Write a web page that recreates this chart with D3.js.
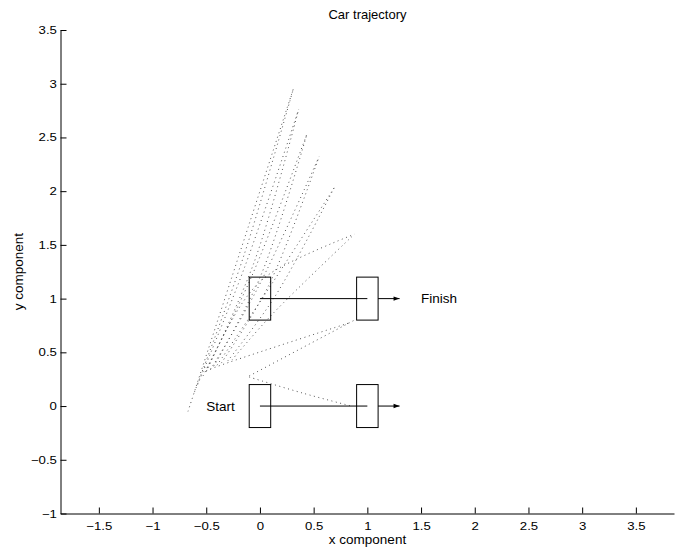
<!DOCTYPE html>
<html><head><meta charset="utf-8">
<script src="https://cdn.jsdelivr.net/npm/d3@7"></script>
<style>
html,body{margin:0;padding:0;background:#fff;}
svg{display:block;font-family:"Liberation Sans",Arial,Helvetica,sans-serif;}
</style></head>
<body>
<svg id="c" width="696" height="551"></svg>
<script>
// ---- data ----
const xTicks = [-1.5,-1,-0.5,0,0.5,1,1.5,2,2.5,3,3.5];
const yTicks = [-1,-0.5,0,0.5,1,1.5,2,2.5,3,3.5];
const xDomain = [-1.857, 3.855];
const yDomain = [-1, 3.5];
// car positions (centre) and body size
const carX = [0, 1, 0, 1];
const carY = [0, 0, 1, 1];
const carW = 0.2, carH = 0.4;
// straight reference paths (y of line from x=0 to x=1) and heading arrows
const pathRows = [0, 1];
const arrowFrom = 1.1, arrowTo = 1.3;
// dotted trajectories: x and y values of each (base, middle, tip)
const trajX = [
  [-0.67,-0.18, 0.31],
  [-0.61,-0.15, 0.31],
  [-0.58,-0.14, 0.36],
  [-0.50,-0.05, 0.36],
  [-0.53,-0.08, 0.44],
  [-0.43, 0.01, 0.44],
  [-0.46,-0.03, 0.55],
  [-0.36, 0.08, 0.55],
  [-0.40, 0.02, 0.69],
  [-0.30, 0.14, 0.69],
  [-0.49,-0.15, 0.09, 0.88],
  [-0.26, 0.12, 0.88],
  [-0.50,-0.28, 0.85],
  [-0.10, 0.88],
  [-0.10, 0.40, 0.85]
];
const trajY = [
  [-0.05, 1.45, 2.95],
  [ 0.13, 1.40, 2.95],
  [ 0.20, 1.30, 2.76],
  [ 0.32, 1.35, 2.76],
  [ 0.28, 1.20, 2.54],
  [ 0.37, 1.22, 2.54],
  [ 0.34, 1.08, 2.32],
  [ 0.40, 1.12, 2.32],
  [ 0.38, 1.00, 2.03],
  [ 0.42, 1.02, 2.03],
  [ 0.36, 0.98, 1.23, 1.60],
  [ 0.43, 0.86, 1.60],
  [ 0.33, 0.41, 0.78],
  [ 0.28, 0.80],
  [ 0.27, 0.12, 0.00]
];
const labels = [{t:"Start", x:-0.5, y:0}, {t:"Finish", x:1.5, y:1}];

// ---- chart ----
const svg = d3.select("#c");
const x = d3.scaleLinear().domain(xDomain).range([60.5, 674]);
const y = d3.scaleLinear().domain(yDomain).range([513.5, 30]);
const fmt = v => (v < 0 ? "\u2212" : "") + Math.abs(v);

// title & axis labels
svg.append("text").attr("x", 367.5).attr("y", 19).attr("text-anchor","middle")
  .attr("font-size", 13).text("Car trajectory");
svg.append("text").attr("x", 367.5).attr("y", 544).attr("text-anchor","middle")
  .attr("font-size", 13.5).text("x component");
svg.append("text").attr("transform","translate(23,271.7) rotate(-90)").attr("text-anchor","middle")
  .attr("font-size", 13.5).text("y component");

// trajectories
const segs = trajX.map((xs,i)=>xs.map((v,j)=>[v, trajY[i][j]]));
const line = d3.line().x(d=>x(d[0])).y(d=>y(d[1])).curve(d3.curveCatmullRom.alpha(0.5));
svg.append("g").selectAll("path").data(segs).join("path")
  .attr("d", line).attr("fill","none").attr("stroke","#555")
  .attr("stroke-width",1).attr("stroke-dasharray","1,3.5");

// straight paths
svg.append("g").selectAll("line").data(pathRows).join("line")
  .attr("x1", x(0)).attr("x2", x(1)).attr("y1", d=>y(d)).attr("y2", d=>y(d))
  .attr("stroke","#000").attr("stroke-width",1);
// arrows
const ag = svg.append("g");
ag.selectAll("line").data(pathRows).join("line")
  .attr("x1", x(arrowFrom)).attr("x2", x(arrowTo)).attr("y1", d=>y(d)).attr("y2", d=>y(d))
  .attr("stroke","#000").attr("stroke-width",1);
ag.selectAll("path").data(pathRows).join("path")
  .attr("d", d=>`M${x(arrowTo)},${y(d)} L${x(arrowTo)-6},${y(d)-2.2} L${x(arrowTo)-6},${y(d)+2.2}Z`)
  .attr("fill","#000");

// cars
svg.append("g").selectAll("rect").data(carX.map((d,i)=>[d,carY[i]])).join("rect")
  .attr("x", d=>x(d[0]-carW/2)).attr("y", d=>y(d[1]+carH/2))
  .attr("width", d=>x(d[0]+carW/2)-x(d[0]-carW/2))
  .attr("height", d=>y(d[1]-carH/2)-y(d[1]+carH/2))
  .attr("fill","none").attr("stroke","#000").attr("stroke-width",1);

// text labels
svg.append("g").selectAll("text").data(labels).join("text")
  .attr("x", d=>x(d.x)).attr("y", d=>y(d.y)).attr("dy","0.35em")
  .attr("font-size",13.5).text(d=>d.t);

// axes
const gx = svg.append("g").attr("transform", `translate(0,${y(yDomain[0])})`)
  .call(d3.axisBottom(x).tickValues(xTicks).tickFormat(fmt).tickSize(-6).tickSizeOuter(0).tickPadding(9));
const gy = svg.append("g").attr("transform", `translate(${x(xDomain[0])},0)`)
  .call(d3.axisLeft(y).tickValues(yTicks).tickFormat(fmt).tickSize(-6).tickSizeOuter(0).tickPadding(3));
[gx, gy].forEach(g => {
  g.attr("font-family", null).attr("font-size", null);
  g.selectAll("text").attr("font-size", 11).attr("fill","#000");
  g.selectAll("line").attr("stroke","#000");
  g.select(".domain").attr("stroke","#000");
});
gx.selectAll(".tick text").attr("transform","scale(1.2,1)");
gy.selectAll(".tick text").attr("transform","scale(1.2,1)");
</script>
</body></html>
